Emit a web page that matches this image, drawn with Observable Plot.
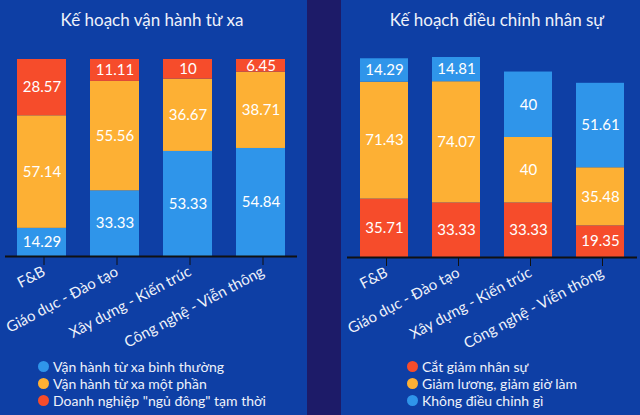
<!DOCTYPE html>
<html>
<head>
<meta charset="utf-8">
<script src="https://cdn.jsdelivr.net/npm/d3@7"></script>
<script src="https://cdn.jsdelivr.net/npm/@observablehq/plot@0.6"></script>
<style>
  body { margin:0; background:#1d1b68; }
  #wrap { position:relative; width:640px; height:415px; overflow:hidden; background:#1d1b68; font-family: Lato, "Open Sans", sans-serif; }
  .panel { position:absolute; top:0; height:415px; background:#0e3fa5; }
  .title { position:absolute; top:9px; left:0; right:0; text-align:center; color:#eef2fa; font-size:17px; }
  .plot { position:absolute; top:0; left:0; overflow:visible; }
  .legend { position:absolute; top:358px; color:#eef2fa; font-size:14px; }
  .legend .item { height:17px; line-height:17px; position:relative; padding-left:10px; white-space:nowrap; }
  .legend .dot { position:absolute; left:-5px; top:3px; width:11px; height:11px; border-radius:50%; }
</style>
</head>
<body>
<div id="wrap">
  <div class="panel" id="left" style="left:0;width:307px"></div>
  <div class="panel" id="right" style="left:341px;width:299px"></div>
</div>
<script>
// ---- data ----
const categories = ["F&B", "Giáo dục - Đào tạo", "Xây dựng - Kiến trúc", "Công nghệ - Viễn thông"];

const titleLeft = "Kế hoạch vận hành từ xa";
const seriesLeft = ["Vận hành từ xa bình thường", "Vận hành từ xa một phần", "Doanh nghiệp \"ngủ đông\" tạm thời"];
const leftNormal = [14.29, 33.33, 53.33, 54.84];
const leftPartial = [57.14, 55.56, 36.67, 38.71];
const leftHibernate = [28.57, 11.11, 10, 6.45];

const titleRight = "Kế hoạch điều chỉnh nhân sự";
const seriesRight = ["Cắt giảm nhân sự", "Giảm lương, giảm giờ làm", "Không điều chỉnh gì"];
const rightCut = [35.71, 33.33, 33.33, 19.35];
const rightReduce = [71.43, 74.07, 40, 35.48];
const rightNone = [14.29, 14.81, 40, 51.61];

const blue = "#2f95ea", orange = "#fdb034", red = "#f64c2b";
const colorsLeft = [blue, orange, red];
const colorsRight = [red, orange, blue];

function buildRows(cats, names, arrays) {
  const rows = [];
  cats.forEach((c, i) => {
    let base = 0;
    names.forEach((s, j) => {
      const v = arrays[j][i];
      rows.push({cat: c, series: s, value: v, y1: base, y2: base + v, ym: base + v / 2});
      base += v;
    });
  });
  return rows;
}

function makePanel(el, title, names, arrays, colors, cfg) {
  const rows = buildRows(categories, names, arrays);
  const yMax = d3.max(categories, (c, i) => d3.sum(arrays, a => a[i]));
  const t = document.createElement("div");
  t.className = "title";
  t.textContent = title;
  if (cfg.titleShift) t.style.left = cfg.titleShift + "px";
  el.appendChild(t);

  const chart = Plot.plot({
    width: cfg.width,
    height: 340,
    marginTop: cfg.top,
    marginBottom: 340 - cfg.base,
    marginLeft: cfg.ml,
    marginRight: cfg.mr,
    style: {background: "transparent", color: "white", fontFamily: "Lato, 'Open Sans', sans-serif", fontSize: "13px", overflow: "visible"},
    x: {domain: categories, paddingInner: 0.33, paddingOuter: 0.165, label: null},
    y: {domain: [0, cfg.yMax === "sum" ? yMax : cfg.yMax], axis: null},
    color: {domain: names, range: colors},
    marks: [
      Plot.barY(rows, {x: "cat", y1: "y1", y2: "y2", fill: "series"}),
      Plot.text(rows, {x: "cat", y: "ym", text: d => String(d.value), fill: "#ffffff", fontSize: 15}),
      Plot.axisX({tickSize: 9, tickPadding: 5, tickRotate: -28, stroke: "#111", fill: "#eef2fa", fontSize: 15, dx: 2, label: null}),
      Plot.ruleY([0], {stroke: "#111", strokeWidth: 2})
    ]
  });
  chart.classList.add("plot");
  el.appendChild(chart);

  const lg = document.createElement("div");
  lg.className = "legend";
  lg.style.left = cfg.legendLeft + "px";
  names.forEach((n, j) => {
    const it = document.createElement("div");
    it.className = "item";
    const d = document.createElement("span");
    d.className = "dot";
    d.style.background = colors[j];
    it.appendChild(d);
    it.appendChild(document.createTextNode(n));
    lg.appendChild(it);
  });
  el.appendChild(lg);
}

makePanel(document.getElementById("left"), titleLeft, seriesLeft,
  [leftNormal, leftPartial, leftHibernate], colorsLeft,
  {width: 307, top: 59, base: 256, ml: 5, mr: 10, yMax: 100, legendLeft: 43, titleShift: -3});
makePanel(document.getElementById("right"), titleRight, seriesRight,
  [rightCut, rightReduce, rightNone], colorsRight,
  {width: 299, top: 57, base: 257, ml: 6, mr: 3, yMax: "sum", legendLeft: 71, titleShift: 13});
</script>
</body>
</html>
